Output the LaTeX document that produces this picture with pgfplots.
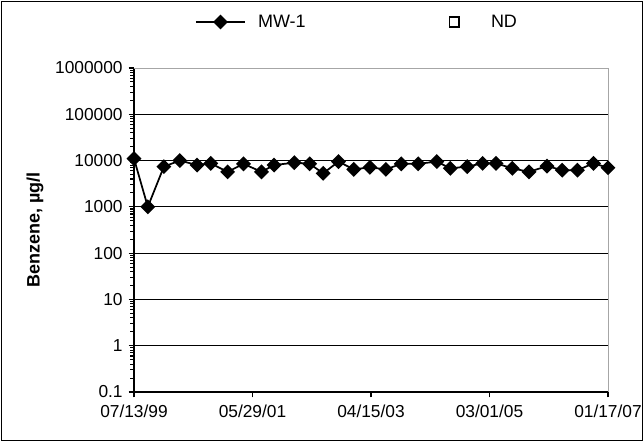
\documentclass[border=0pt]{standalone}
\usepackage{fontspec}
\setmainfont{Liberation Sans}
\usepackage{pgfplots}
\pgfplotsset{compat=1.18}

% x = days since 07/13/99 (Excel date axis, major unit 686 days)
\pgfplotstableread{
day conc
0    11000
80   1000
173  7400
265  10000
365  8000
444  8700
542  5700
634  8500
738  5700
811  8000
928  9000
1017 8500
1095 5300
1184 9500
1272 6450
1366 7150
1458 6450
1547 8500
1645 8500
1753 9500
1831 6800
1929 7400
2018 8700
2096 8700
2190 6800
2287 5700
2391 7600
2479 6200
2567 6200
2660 8700
2744 7000
}\mwone

\begin{document}
\begin{tikzpicture}[x=0.75pt,y=0.75pt]
\useasboundingbox (0,0) rectangle (644,442);
\draw[black,line width=0.9pt] (1.5,1.5) rectangle (642.5,440.5);
\begin{axis}[
  at={(100.5pt,37.5pt)}, anchor=south west,
  scale only axis,
  width=355.5pt, height=243pt,
  ymode=log,
  xmin=0, xmax=2744,
  ymin=0.1, ymax=1000000,
  xtick={0,686,1372,2058,2744},
  xticklabels={07/13/99,05/29/01,04/15/03,03/01/05,01/17/07},
  ytick={0.1,1,10,100,1000,10000,100000,1000000},
  yticklabels={0.1,1,10,100,1000,10000,100000,1000000},
  minor ytick={},
  axis lines=left,
  axis line style={-, line width=1.1pt},
  tick style={black, line width=0.8pt},
  tick align=outside,
  major tick length=4pt,
  ymajorgrids,
  major grid style={black, line width=0.7pt},
  ticklabel style={font=\fontsize{13}{15}\selectfont},
  /pgf/number format/assume math mode=true,
  xticklabel style={yshift=-2pt},
  yticklabel style={xshift=-1pt},
  ylabel={\textbf{Benzene, µg/l}},
  ylabel style={font=\fontsize{13.5}{16}\selectfont,
    at={(axis description cs:-0.209,0.5)}, anchor=center},
  legend columns=2,
  legend style={draw=none, fill=none, inner sep=0pt,
    at={(0.128,1.142)}, anchor=west,
    font=\fontsize{13.5}{16}\selectfont,
    /tikz/every odd column/.append style={column sep=7pt},
    /tikz/every even column/.append style={column sep=91pt}},
  legend image code/.code={%
    \draw[mark repeat=2,mark phase=2,#1] plot coordinates {(0pt,0pt)(18.5pt,0pt)(37pt,0pt)};},
  clip=false,
]
\draw[gray!70, line width=0.7pt] (rel axis cs:0,1) -- (rel axis cs:1,1) -- (rel axis cs:1,0);
\addplot[black, line width=1.3pt, mark=square*, mark size=3.3pt,
  mark options={rotate=45, solid}] table[x=day, y=conc] {\mwone};
\addlegendentry{MW-1}
\addlegendimage{legend image code/.code={%
  \path[draw=none, fill=none] (0pt,0pt) -- (37pt,0pt);
  \draw[black, fill=none, line width=1.3pt] (14.8pt,-3.7pt) rectangle (22.2pt,3.7pt);}}
\addlegendentry{ND}
\end{axis}
\end{tikzpicture}
\end{document}
